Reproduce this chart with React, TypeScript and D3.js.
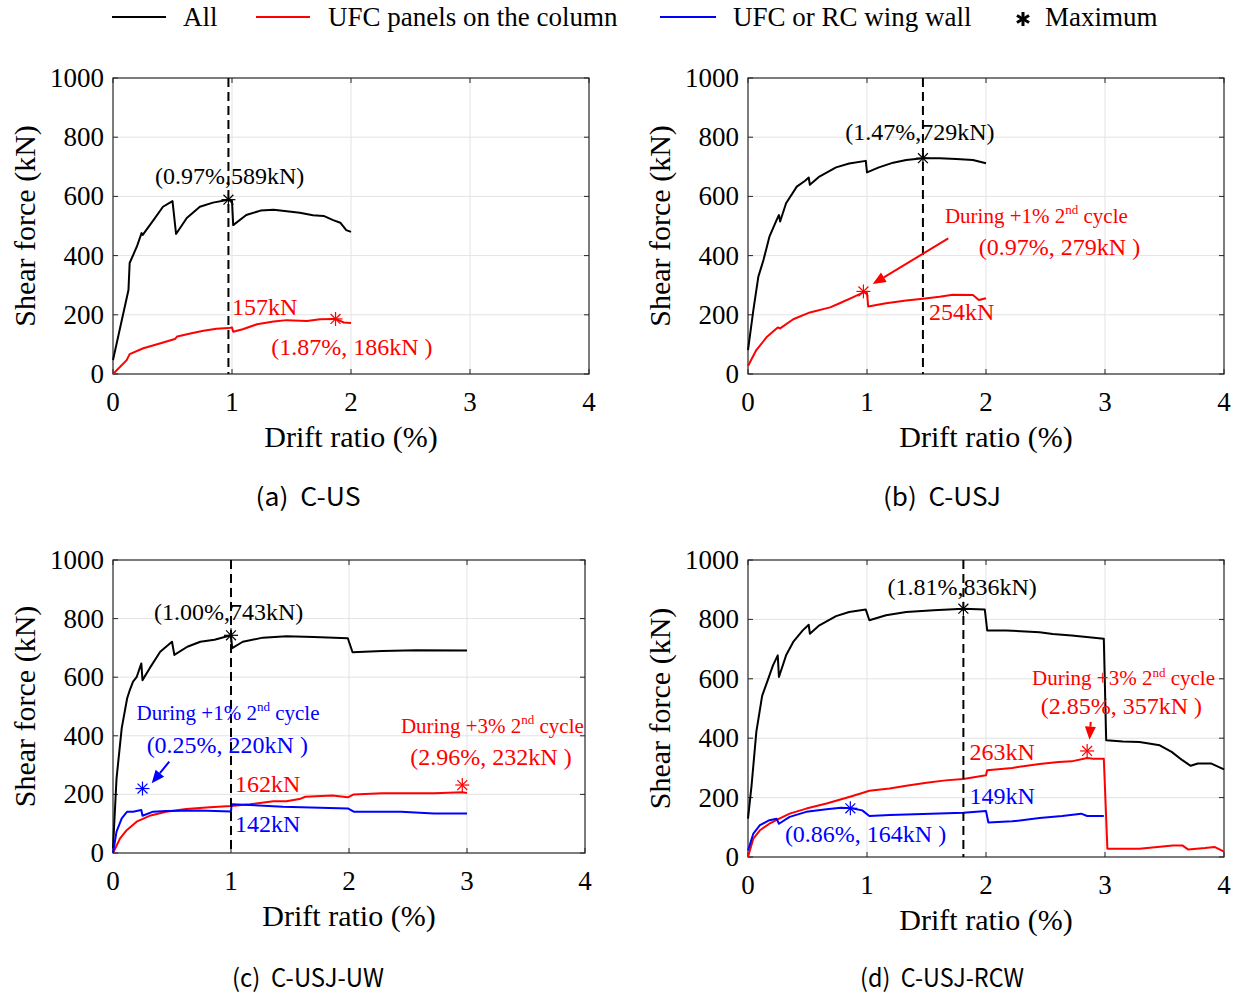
import React from 'react';
import * as d3 from 'd3';

type P = [number, number];

const xTicks = [0, 1, 2, 3, 4];
const yTicks = [0, 200, 400, 600, 800, 1000];
const legendLabels = ['All', 'UFC panels on the column', 'UFC or RC wing wall', 'Maximum'];
const captions = ['(a)  C-US', '(b)  C-USJ', '(c)  C-USJ-UW', '(d)  C-USJ-RCW'];

// (a) C-US
const aAll: P[] = [[0,47],[0.13,284],[0.14,375],[0.2,430],[0.24,476],[0.25,470],[0.34,520],[0.42,565],[0.5,584],[0.53,473],[0.62,527],[0.73,565],[0.84,579],[0.97,589],[1.0,585],[1.01,503],[1.12,537],[1.24,552],[1.35,555],[1.46,550],[1.57,545],[1.68,536],[1.77,534],[1.85,520],[1.91,511],[1.96,486],[2.0,480]];
const aUfc: P[] = [[0,0],[0.115,47],[0.14,67],[0.255,87],[0.4,104],[0.52,118],[0.54,127],[0.65,137],[0.76,146],[0.87,153],[0.97,155],[1.0,157],[1.01,143],[1.09,151],[1.21,168],[1.35,177],[1.46,182],[1.63,179],[1.74,185],[1.87,186],[1.94,174],[2.0,172]];

// (b) C-USJ
const bAll: P[] = [[0,81],[0.045,216],[0.087,329],[0.13,385],[0.18,464],[0.24,520],[0.26,537],[0.27,515],[0.32,577],[0.41,633],[0.48,653],[0.51,664],[0.52,639],[0.6,667],[0.74,698],[0.85,711],[0.99,720],[1.0,681],[1.1,698],[1.22,714],[1.33,723],[1.47,729],[1.61,729],[1.75,726],[1.89,723],[2.0,712]];
const bUfc: P[] = [[0,27],[0.07,81],[0.16,126],[0.25,157],[0.27,154],[0.38,185],[0.52,208],[0.69,225],[0.77,239],[0.88,259],[0.97,276],[1.0,274],[1.01,228],[1.16,239],[1.33,248],[1.47,254],[1.61,261],[1.72,268],[1.89,267],[1.94,250],[2.0,256]];

// (c) C-USJ-UW
const cAll: P[] = [[0,16],[0.03,255],[0.074,426],[0.12,528],[0.14,553],[0.17,585],[0.2,600],[0.24,647],[0.25,590],[0.31,630],[0.4,687],[0.5,721],[0.52,676],[0.63,704],[0.74,721],[0.86,728],[1.0,743],[1.01,699],[1.1,721],[1.27,735],[1.47,740],[1.7,737],[1.99,733],[2.03,685],[2.28,689],[2.57,692],[3.0,691]];
const cUfc: P[] = [[0,0],[0.06,50],[0.116,78],[0.2,107],[0.31,127],[0.45,141],[0.62,150],[0.82,156],[1.0,160],[1.16,166],[1.36,177],[1.47,177],[1.58,184],[1.63,192],[1.86,196],[1.99,190],[2.04,200],[2.28,204],[2.72,204],[2.96,207],[3.0,205]];
const cWing: P[] = [[0,0],[0.03,73],[0.074,118],[0.12,141],[0.17,141],[0.24,147],[0.25,127],[0.34,141],[0.45,143],[0.73,145],[1.0,142],[1.005,166],[1.16,164],[1.44,158],[1.99,152],[2.04,141],[2.44,141],[2.72,135],[3.0,135]];

// (d) C-USJ-RCW
const dAll: P[] = [[0,129],[0.03,241],[0.04,286],[0.07,421],[0.115,533],[0.12,544],[0.17,600],[0.21,645],[0.25,679],[0.26,606],[0.32,679],[0.38,724],[0.46,763],[0.51,782],[0.52,752],[0.6,780],[0.74,811],[0.85,825],[0.99,833],[1.02,797],[1.16,814],[1.33,825],[1.56,831],[1.81,836],[1.99,833],[2.01,763],[2.17,763],[2.45,757],[2.56,751],[2.72,746],[2.99,735],[3.01,393],[3.15,389],[3.29,387],[3.46,376],[3.56,354],[3.65,326],[3.72,307],[3.78,315],[3.89,315],[4.0,295]];
const dUfc: P[] = [[0,0],[0.045,62],[0.1,90],[0.18,112],[0.25,127],[0.35,146],[0.49,163],[0.66,180],[0.85,202],[0.94,213],[1.02,223],[1.19,231],[1.33,240],[1.5,250],[1.66,258],[1.81,263],[2.0,275],[2.01,292],[2.22,300],[2.45,313],[2.61,320],[2.72,322],[2.85,333],[2.9,331],[2.99,331],[3.02,28],[3.29,28],[3.57,39],[3.65,39],[3.7,25],[3.84,30],[3.92,34],[4.0,18]];
const dWing: P[] = [[0,22],[0.045,79],[0.1,107],[0.18,124],[0.24,129],[0.26,112],[0.35,135],[0.49,152],[0.66,161],[0.78,166],[0.87,164],[0.96,157],[1.02,138],[1.19,141],[1.47,145],[1.81,149],[2.0,155],[2.02,116],[2.22,120],[2.45,131],[2.64,138],[2.8,146],[2.85,138],[2.99,138]];

const BLACK = '#000000';
const RED = '#ff0000';
const BLUE = '#0000ff';
const SERIF = '"Liberation Serif", "Times New Roman", serif';
const GOTHIC = '"Noto Sans CJK JP", sans-serif';

type Ann = { t: string; x: number; y: number; c: string; s: number; a?: string; sup?: [string, string, string] };
type Arrow = { from: P; to: P; c: string };
type Series = { d: P[]; c: string };
type Star = { p: P; c: string };
type Cfg = {
  left: number; right: number; top: number; bottom: number;
  series: Series[]; stars: Star[]; dash: number; anns: Ann[]; arrows: Arrow[];
  caption: string; capX: number; capY: number; capW: number;
};

const panels: Cfg[] = [
  {
    left: 113, right: 589, top: 78, bottom: 374, dash: 0.97,
    series: [{ d: aAll, c: BLACK }, { d: aUfc, c: RED }],
    stars: [{ p: [0.97, 589], c: BLACK }, { p: [1.87, 186], c: RED }],
    anns: [
      { t: '(0.97%,589kN)', x: 0.98, y: 642, c: BLACK, s: 24, a: 'middle' },
      { t: '157kN', x: 1.0, y: 199, c: RED, s: 24 },
      { t: '(1.87%, 186kN )', x: 1.33, y: 64, c: RED, s: 24 },
    ],
    arrows: [],
    caption: captions[0], capX: 308, capY: 506, capW: 105,
  },
  {
    left: 748, right: 1224, top: 78, bottom: 374, dash: 1.47,
    series: [{ d: bAll, c: BLACK }, { d: bUfc, c: RED }],
    stars: [{ p: [1.47, 729], c: BLACK }, { p: [0.97, 279], c: RED }],
    anns: [
      { t: '(1.47%,729kN)', x: 1.445, y: 790, c: BLACK, s: 24, a: 'middle' },
      { t: '', x: 1.655, y: 511, c: RED, s: 21, sup: ['During +1% 2', 'nd', ' cycle'] },
      { t: '(0.97%, 279kN )', x: 1.94, y: 402, c: RED, s: 24 },
      { t: '254kN', x: 1.52, y: 182, c: RED, s: 24 },
    ],
    arrows: [{ from: [1.683, 458], to: [1.048, 304], c: RED }],
    caption: captions[1], capX: 942, capY: 506, capW: 118,
  },
  {
    left: 113, right: 585, top: 560, bottom: 853, dash: 1.0,
    series: [{ d: cAll, c: BLACK }, { d: cUfc, c: RED }, { d: cWing, c: BLUE }],
    stars: [{ p: [1.0, 743], c: BLACK }, { p: [0.25, 220], c: BLUE }, { p: [2.96, 232], c: RED }],
    anns: [
      { t: '(1.00%,743kN)', x: 0.98, y: 795, c: BLACK, s: 24, a: 'middle' },
      { t: '', x: 0.2, y: 454, c: BLUE, s: 21, sup: ['During +1% 2', 'nd', ' cycle'] },
      { t: '(0.25%, 220kN )', x: 0.285, y: 340, c: BLUE, s: 24 },
      { t: '162kN', x: 1.034, y: 209, c: RED, s: 24 },
      { t: '142kN', x: 1.034, y: 73, c: BLUE, s: 24 },
      { t: '', x: 2.44, y: 410, c: RED, s: 21, sup: ['During +3% 2', 'nd', ' cycle'] },
      { t: '(2.96%, 232kN )', x: 2.52, y: 300, c: RED, s: 24 },
    ],
    arrows: [{ from: [0.477, 312], to: [0.328, 238], c: BLUE }],
    caption: captions[2], capX: 308, capY: 987, capW: 152,
  },
  {
    left: 748, right: 1224, top: 560, bottom: 857, dash: 1.81,
    series: [{ d: dAll, c: BLACK }, { d: dUfc, c: RED }, { d: dWing, c: BLUE }],
    stars: [{ p: [1.81, 836], c: BLACK }, { p: [2.85, 357], c: RED }, { p: [0.86, 164], c: BLUE }],
    anns: [
      { t: '(1.81%,836kN)', x: 1.80, y: 881, c: BLACK, s: 24, a: 'middle' },
      { t: '', x: 2.387, y: 578, c: RED, s: 21, sup: ['During +3% 2', 'nd', ' cycle'] },
      { t: '(2.85%, 357kN )', x: 2.46, y: 483, c: RED, s: 24 },
      { t: '263kN', x: 1.862, y: 326, c: RED, s: 24 },
      { t: '149kN', x: 1.862, y: 180, c: BLUE, s: 24 },
      { t: '(0.86%, 164kN )', x: 0.31, y: 50, c: BLUE, s: 24 },
    ],
    arrows: [{ from: [2.88, 455], to: [2.87, 395], c: RED }],
    caption: captions[3], capX: 942, capY: 987, capW: 164,
  },
];

function StarMark({ cx, cy, c, r = 7, w = 1.2, arms = 8 }: { cx: number; cy: number; c: string; r?: number; w?: number; arms?: number }) {
  const n = arms / 2;
  const lines = d3.range(n).map((i) => {
    const ang = (Math.PI * i) / n + (arms === 6 ? Math.PI / 2 : 0);
    const dx = Math.cos(ang) * r;
    const dy = Math.sin(ang) * r;
    return <line key={i} x1={cx - dx} y1={cy - dy} x2={cx + dx} y2={cy + dy} stroke={c} strokeWidth={w} />;
  });
  return <g>{lines}</g>;
}

function Panel({ cfg }: { cfg: Cfg }) {
  const x = d3.scaleLinear().domain([0, 4]).range([cfg.left, cfg.right]);
  const y = d3.scaleLinear().domain([0, 1000]).range([cfg.bottom, cfg.top]);
  const line = d3.line<P>().x((d) => x(d[0])).y((d) => y(d[1]));
  const tl = 5;
  const frame = '#262626';
  const cx = (cfg.left + cfg.right) / 2;
  const cy = (cfg.top + cfg.bottom) / 2;
  return (
    <g>
      {xTicks.slice(1, -1).map((t) => (
        <line key={'gx' + t} x1={x(t)} x2={x(t)} y1={cfg.top} y2={cfg.bottom} stroke="#e3e3e3" strokeWidth={1} />
      ))}
      {yTicks.slice(1, -1).map((t) => (
        <line key={'gy' + t} x1={cfg.left} x2={cfg.right} y1={y(t)} y2={y(t)} stroke="#e3e3e3" strokeWidth={1} />
      ))}
      {xTicks.map((t) => (
        <g key={'tx' + t}>
          <line x1={x(t)} x2={x(t)} y1={cfg.bottom} y2={cfg.bottom - tl} stroke={frame} strokeWidth={1} />
          <line x1={x(t)} x2={x(t)} y1={cfg.top} y2={cfg.top + tl} stroke={frame} strokeWidth={1} />
          <text x={x(t)} y={cfg.bottom + 37} textAnchor="middle" fontFamily={SERIF} fontSize={27} fill="#000">{t}</text>
        </g>
      ))}
      {yTicks.map((t) => (
        <g key={'ty' + t}>
          <line x1={cfg.left} x2={cfg.left + tl} y1={y(t)} y2={y(t)} stroke={frame} strokeWidth={1} />
          <line x1={cfg.right} x2={cfg.right - tl} y1={y(t)} y2={y(t)} stroke={frame} strokeWidth={1} />
          <text x={cfg.left - 9} y={y(t) + 9} textAnchor="end" fontFamily={SERIF} fontSize={27} fill="#000">{t}</text>
        </g>
      ))}
      <rect x={cfg.left} y={cfg.top} width={cfg.right - cfg.left} height={cfg.bottom - cfg.top} fill="none" stroke={frame} strokeWidth={1.2} />
      <text x={cx} y={cfg.bottom + 73} textAnchor="middle" fontFamily={SERIF} fontSize={30} fill="#000">Drift ratio (%)</text>
      <text transform={`translate(${cfg.left - 78},${cy}) rotate(-90)`} textAnchor="middle" fontFamily={SERIF} fontSize={30} fill="#000">Shear force (kN)</text>
      {cfg.series.map((s, i) => (
        <path key={'s' + i} d={line(s.d) || ''} fill="none" stroke={s.c} strokeWidth={2} strokeLinejoin="round" />
      ))}
      <line x1={x(cfg.dash)} x2={x(cfg.dash)} y1={cfg.top} y2={cfg.bottom} stroke="#000" strokeWidth={2} strokeDasharray="9,5" />
      {cfg.stars.map((s, i) => (
        <StarMark key={'st' + i} cx={x(s.p[0])} cy={y(s.p[1])} c={s.c} />
      ))}
      {cfg.arrows.map((a, i) => {
        const x1 = x(a.from[0]), y1 = y(a.from[1]), x2 = x(a.to[0]), y2 = y(a.to[1]);
        const ang = Math.atan2(y2 - y1, x2 - x1);
        const hl = 13, hw = 5.5;
        const bx = x2 - Math.cos(ang) * hl, by = y2 - Math.sin(ang) * hl;
        const px = -Math.sin(ang) * hw, py = Math.cos(ang) * hw;
        return (
          <g key={'ar' + i}>
            <line x1={x1} y1={y1} x2={bx} y2={by} stroke={a.c} strokeWidth={2} />
            <polygon points={`${x2},${y2} ${bx + px},${by + py} ${bx - px},${by - py}`} fill={a.c} />
          </g>
        );
      })}
      {cfg.anns.map((a, i) => (
        <text key={'an' + i} x={x(a.x)} y={y(a.y)} textAnchor={a.a || 'start'} fontFamily={SERIF} fontSize={a.s} fill={a.c}>
          {a.sup ? (
            <>
              <tspan>{a.sup[0]}</tspan>
              <tspan fontSize={a.s * 0.62} dy={-a.s * 0.42}>{a.sup[1]}</tspan>
              <tspan dy={a.s * 0.42}>{a.sup[2]}</tspan>
            </>
          ) : a.t}
        </text>
      ))}
      <text x={cfg.capX} y={cfg.capY} textAnchor="middle" fontFamily={GOTHIC} fontSize={25} fill="#000"
        textLength={cfg.capW} lengthAdjust="spacingAndGlyphs" xmlSpace="preserve">{cfg.caption}</text>
    </g>
  );
}

export default function App() {
  const ly = 17;
  return (
    <svg width={1239} height={996} style={{ display: 'block', position: 'absolute', left: 0, top: 0, background: '#fff' }}>
      <rect x={0} y={0} width={1239} height={996} fill="#fff" />
      <g fontFamily={SERIF} fontSize={27} fill="#000">
        <line x1={112} x2={166} y1={ly} y2={ly} stroke={BLACK} strokeWidth={2} />
        <text x={183} y={ly + 9}>{legendLabels[0]}</text>
        <line x1={256} x2={310} y1={ly} y2={ly} stroke={RED} strokeWidth={2} />
        <text x={328} y={ly + 9}>{legendLabels[1]}</text>
        <line x1={660} x2={716} y1={ly} y2={ly} stroke={BLUE} strokeWidth={2} />
        <text x={733} y={ly + 9}>{legendLabels[2]}</text>
        <StarMark cx={1023} cy={ly + 2} c={BLACK} r={7} w={3} arms={6} />
        <text x={1045} y={ly + 9}>{legendLabels[3]}</text>
      </g>
      {panels.map((p, i) => (
        <Panel key={i} cfg={p} />
      ))}
    </svg>
  );
}
